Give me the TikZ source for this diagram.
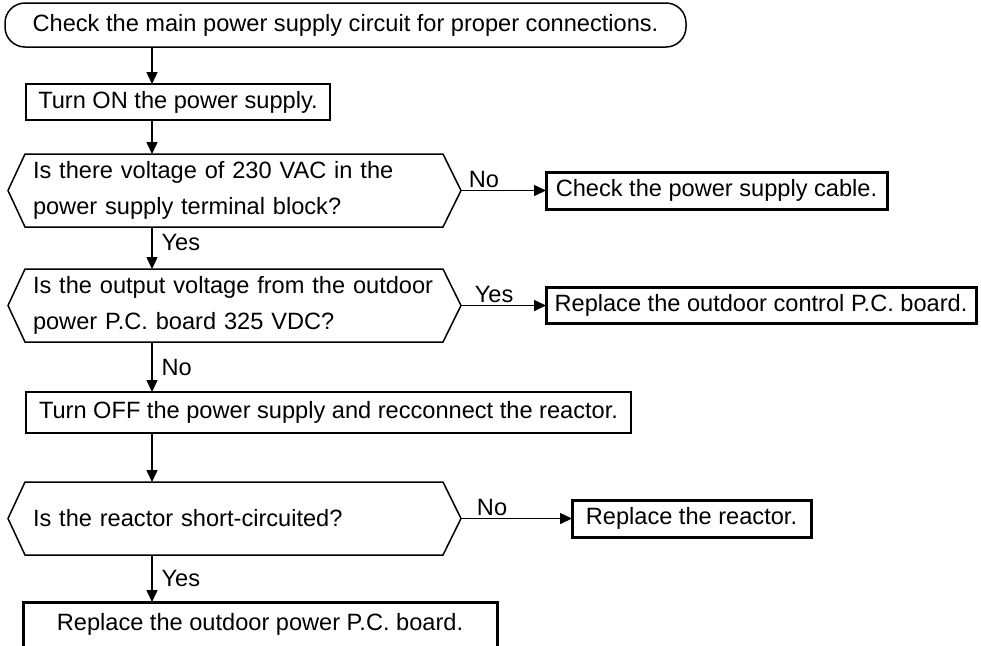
\documentclass[tikz,border=0pt]{standalone}
\usepackage{fontspec}
\setmainfont{Liberation Sans}
\usetikzlibrary{arrows.meta}

\tikzset{
  every node/.style={font=\fontsize{11.8pt}{18pt}\selectfont, outer sep=0pt},
  flow/.style={line width=0.75pt, -{Triangle[length=6pt, width=5.5pt]}},
  startbox/.style={draw, line width=0.75pt, rounded corners=10pt, minimum width=340.5pt, minimum height=22pt, inner sep=0pt},
  stepbox/.style={draw, line width=0.75pt, anchor=north west, inner sep=0pt},
  endbox/.style={draw, line width=1.5pt, anchor=north west, inner sep=0pt},
  query/.style={anchor=north west, minimum height=36.5pt, text width=201.5pt, inner xsep=12.5pt, inner ysep=0pt, align=left},
  answer/.style={inner sep=1.5pt}
}

\begin{document}
\begin{tikzpicture}[x=0.5pt, y=-0.5pt]
  \useasboundingbox (0,0) rectangle (981,645);
  \coordinate (spine) at (152,0);

  \node[startbox] (start) at (345.5,25) {Check the main power supply circuit for proper connections.};
  \node[stepbox, minimum width=152pt, minimum height=18pt] (on) at (26,84) {Turn ON the power supply.};
  \node[query] (q1) at (8,154) {Is there voltage of 230 VAC in the\\power supply terminal block?};
  \node[endbox, minimum width=170.5pt, minimum height=18.5pt] (cable) at (546,172) {Check the power supply cable.};
  \node[query] (q2) at (8,269) {Is the output voltage from the outdoor\\power P.C. board 325 VDC?};
  \node[endbox, minimum width=215pt, minimum height=18pt] (ctrl) at (546,287.5) {Replace the outdoor control P.C. board.};
  \node[stepbox, minimum width=302.5pt, minimum height=20.5pt] (off) at (26,392) {Turn OFF the power supply and recconnect the reactor.};
  \node[query] (q3) at (8,482) {Is the reactor short-circuited?};
  \node[endbox, minimum width=119.5pt, minimum height=18.5pt] (reactor) at (572,500) {Replace the reactor.};
  \node[endbox, minimum width=237pt, minimum height=22.5pt] (board) at (23,602) {Replace the outdoor power P.C. board.};

  % hexagon outlines of the questions
  \foreach \q in {q1,q2,q3}
    \draw[line width=0.75pt] (\q.west) -- ([xshift=8.5pt]\q.north west) -- ([xshift=-9pt]\q.north east)
      -- (\q.east) -- ([xshift=-9pt]\q.south east) -- ([xshift=8.5pt]\q.south west) -- cycle;

  % connectors
  \draw[flow] (start.south -| spine) -- (on.north -| spine);
  \draw[flow] (on.south -| spine) -- (q1.north -| spine);
  \draw[flow] (q1.east) -- node[answer, above, pos=0.27] {No} (cable.west);
  \draw[flow] (q1.south -| spine) -- node[answer, right, pos=0.36, xshift=3.3pt] {Yes} (q2.north -| spine);
  \draw[flow] (q2.east) -- node[answer, above, pos=0.39] {Yes} (ctrl.west);
  \draw[flow] (q2.south -| spine) -- node[answer, right, pos=0.5, xshift=3.3pt] {No} (off.north -| spine);
  \draw[flow] (off.south -| spine) -- (q3.north -| spine);
  \draw[flow] (q3.east) -- node[answer, above, pos=0.28] {No} (reactor.west);
  \draw[flow] (q3.south -| spine) -- node[answer, right, pos=0.49, xshift=3.3pt] {Yes} (board.north -| spine);
\end{tikzpicture}
\end{document}
